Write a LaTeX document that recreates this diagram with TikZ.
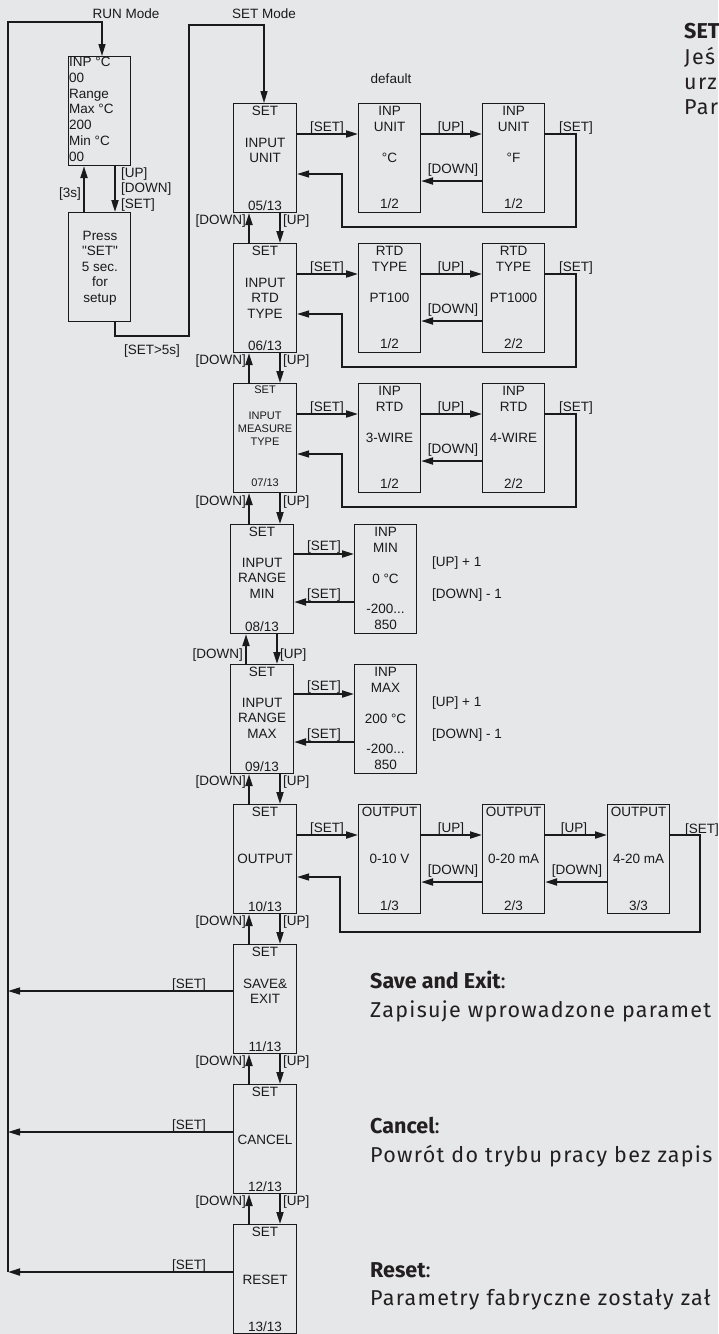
\documentclass[tikz,border=0pt]{standalone}
\usepackage{fontspec}
\setmainfont{Liberation Sans}[Ligatures=TeXOff]
\newfontfamily\notefont[LetterSpace=6, BoldFeatures={LetterSpace=0}]{Fira Sans}
\usetikzlibrary{arrows.meta,calc}
\definecolor{bg}{HTML}{E6E7E8}
\definecolor{ink}{HTML}{1A1A1A}
\definecolor{notec}{HTML}{231F20}

% multi-line nodes are anchored at the baseline of their LAST line
\newcommand\colbox[6]{%
  \node[boxst] (#1) at (#2,#3) {};
  \node[txt] (#1s) at ($(#1.north)+(0,12)$) {SET};
  \node[txt] (#1t) at ($(#1.north)+(0,#4)$) {#5};
  \node[txt] (#1n) at ($(#1.south)+(0,-3)$) {#6};
}
\newcommand\subbox[8]{%
  \node[subst] (#1) at (#2,#3) {};
  \node[txt] (#1a) at ($(#1.north)+(0,12)$) {#4};
  \node[txt] (#1b) at ($(#1.north)+(0,28)$) {#5};
  \node[txt] (#1c) at ($(#1.north)+(0,59)$) {#6};
  \node[txt] (#1d) at ($(#1.north)+(0,#7)$) {#8};
}
% row with two options: colbox, s1, s2, top
\newcommand\optrow[4]{%
  \draw[arr] (#1.east |- 0,#4+31) -- (#2.west |- 0,#4+31);
  \node[txt] (#1ls) at (327,#4+28) {[SET]};
  \draw[arr] (#2.east |- 0,#4+31) -- (#3.west |- 0,#4+31);
  \node[txt] (#1lu) at (451,#4+28) {[UP]};
  \draw[arr] (#3.west |- 0,#4+78) -- (#2.east |- 0,#4+78);
  \node[txt] (#1ld) at (453,#4+70) {[DOWN]};
  \node[txt] (#1lr) at (576,#4+28) {[SET]};
  \draw[ret] (#3.east |- 0,#4+31) -- (576,#4+31) -- (576,#4+124) -- (342,#4+124) -- (342,#4+71) -- (#1.east |- 0,#4+71);
}
% numeric row: colbox, sub, top
\newcommand\numrow[3]{%
  \draw[arr] (#1.east |- 0,#3+30) -- (#2.west |- 0,#3+30);
  \node[txt] (#1ls) at (324,#3+26) {[SET]};
  \draw[arr] (#2.west |- 0,#3+78) -- (#1.east |- 0,#3+78);
  \node[txt] (#1lr) at (324,#3+74) {[SET]};
  \node[txt, anchor=base west] (#1up) at (432,#3+42) {[UP] + 1};
  \node[txt, anchor=base west] (#1dn) at (432,#3+74) {[DOWN] - 1};
}
% vertical pair: upper, lower, xup, xdown, label y
\newcommand\vpair[5]{%
  \draw[arr] (#2.north -| #3,0) -- (#1.south -| #3,0);
  \draw[arr] (#1.south -| #4,0) -- (#2.north -| #4,0);
  \node[txt, anchor=base east] (#1dl) at (#3-3,#5) {[DOWN]};
  \node[txt, anchor=base west] (#1ul) at (#4+3,#5) {[UP]};
}

\begin{document}
\begin{tikzpicture}[x=1pt,y=-1pt,
  boxst/.style={draw=ink, line width=1.1pt, minimum width=63pt, minimum height=109pt, inner sep=0pt, anchor=north west},
  subst/.style={boxst, minimum width=62pt},
  txt/.style={font=\fontsize{13.5}{15.5}\selectfont, inner sep=0pt, anchor=base, align=center, text=ink},
  stxt/.style={txt, font=\fontsize{11}{13.3}\selectfont},
  arr/.style={draw=ink, line width=2pt, -{Triangle[length=12pt,width=7pt]}},
  ret/.style={draw=ink, line width=1.4pt, -{Triangle[length=12pt,width=7pt]}},
  note/.style={font=\notefont\fontsize{21.5}{26}\selectfont, text=notec, inner sep=0pt, anchor=base west},
]
\useasboundingbox (0,0) rectangle (718,1334);
\fill[bg] (0,0) rectangle (718,1334);

% ---------- SET column
\colbox{b1}{233}{103}{59.5}{INPUT\\UNIT}{05/13}
\colbox{b2}{233}{243}{75}{INPUT\\RTD\\TYPE}{06/13}
\node[boxst] (b3) at (233,383) {};
\node[stxt] (b3s) at ($(b3.north)+(0,10)$) {SET};
\node[stxt] (b3t) at ($(b3.north)+(0,62.6)$) {INPUT\\MEASURE\\TYPE};
\node[stxt] (b3n) at ($(b3.south)+(0,-7)$) {07/13};
\colbox{b4}{230}{524}{74}{INPUT\\RANGE\\MIN}{08/13}
\colbox{b5}{230}{664}{74}{INPUT\\RANGE\\MAX}{09/13}
\colbox{b6}{233}{804}{59}{OUTPUT}{10/13}
\colbox{b7}{233}{944}{59.5}{SAVE\&\\EXIT}{11/13}
\colbox{b8}{233}{1084}{60}{CANCEL}{12/13}
\colbox{b9}{233}{1224}{60}{RESET}{13/13}

\vpair{b1}{b2}{249}{280}{224}
\vpair{b2}{b3}{249}{280}{364}
\vpair{b3}{b4}{249}{280}{505}
\vpair{b4}{b5}{246}{277}{658}
\vpair{b5}{b6}{249}{280}{785}
\vpair{b6}{b7}{249}{280}{925}
\vpair{b7}{b8}{249}{280}{1065}
\vpair{b8}{b9}{249}{280}{1205}

% ---------- RUN part
\node[txt] (runlbl) at (126,18) {RUN Mode};
\node[txt] (setlbl) at (264,18) {SET Mode};
\node[boxst, minimum width=62pt] (run) at (68,56) {};
\node[boxst, minimum width=62pt] (press) at (68,212) {};
\node[txt, anchor=base west, align=left, font=\fontsize{13.5}{15.7}\selectfont] (runtxt) at (69,161) {INP °C\\00\\Range\\Max °C\\200\\Min °C\\00};
\node[txt] (presstxt) at (100,302) {Press\\"SET"\\5 sec.\\for\\setup};
\draw[arr] (press.north -| 84,0) -- (run.south -| 84,0);
\draw[arr] (run.south -| 115,0) -- (press.north -| 115,0);
\node[txt, anchor=base east] (l3s) at (81,197) {[3s]};
\node[txt, anchor=base west, align=left] (lkeys) at (121,208) {[UP]\\{}[DOWN]\\{}[SET]};

\coordinate (ltop) at (8,22);
\coordinate (lbot) at (8,1272);
\draw[ret] (lbot) -- (ltop) -- (102,22) -- (run.north -| 102,0);

\draw[ret] (press.south -| 115,0) -- (115,336) -- (189,336) -- (189,25) -- (264,25) -- (b1.north -| 264,0);
\node[txt] (set5) at (152,354) {[SET>5s]};

% ---------- option rows
\node[txt] (deflt) at (391,83) {default};
\subbox{s11}{358}{103}{INP}{UNIT}{°C}{105}{1/2}
\subbox{s12}{482}{103}{INP}{UNIT}{°F}{105}{1/2}
\optrow{b1}{s11}{s12}{103}

\subbox{s21}{358}{243}{RTD}{TYPE}{PT100}{105}{1/2}
\subbox{s22}{482}{243}{RTD}{TYPE}{PT1000}{105}{2/2}
\optrow{b2}{s21}{s22}{243}

\subbox{s31}{358}{383}{INP}{RTD}{3-WIRE}{105}{1/2}
\subbox{s32}{482}{383}{INP}{RTD}{4-WIRE}{105}{2/2}
\optrow{b3}{s31}{s32}{383}

\subbox{s41}{354}{524}{INP}{MIN}{0 °C}{105}{-200...\\850}
\numrow{b4}{s41}{524}
\subbox{s51}{354}{664}{INP}{MAX}{200 °C}{105}{-200...\\850}
\numrow{b5}{s51}{664}

% output row
\node[subst] (s61) at (358,804) {};
\node[subst] (s62) at (482,804) {};
\node[subst] (s63) at (607,804) {};
\node[txt] (s61a) at ($(s61.north)+(0,12)$) {OUTPUT};
\node[txt] (s61c) at ($(s61.north)+(0,59)$) {0-10 V};
\node[txt] (s61d) at ($(s61.north)+(0,106)$) {1/3};
\node[txt] (s62a) at ($(s62.north)+(0,12)$) {OUTPUT};
\node[txt] (s62c) at ($(s62.north)+(0,59)$) {0-20 mA};
\node[txt] (s62d) at ($(s62.north)+(0,106)$) {2/3};
\node[txt] (s63a) at ($(s63.north)+(0,12)$) {OUTPUT};
\node[txt] (s63c) at ($(s63.north)+(0,59)$) {4-20 mA};
\node[txt] (s63d) at ($(s63.north)+(0,106)$) {3/3};
\draw[arr] (b6.east |- 0,835) -- (s61.west |- 0,835);
\node[txt] (b6ls) at (327,832) {[SET]};
\draw[arr] (s61.east |- 0,835) -- (s62.west |- 0,835);
\node[txt] (b6lu1) at (451,832) {[UP]};
\draw[arr] (s62.east |- 0,835) -- (s63.west |- 0,835);
\node[txt] (b6lu2) at (574,832) {[UP]};
\draw[arr] (s62.west |- 0,882) -- (s61.east |- 0,882);
\node[txt] (b6ld1) at (453,874) {[DOWN]};
\draw[arr] (s63.west |- 0,882) -- (s62.east |- 0,882);
\node[txt] (b6ld2) at (577,874) {[DOWN]};
\node[txt] (b6lr) at (702,833) {[SET]};
\draw[ret] (s63.east |- 0,835) -- (700,835) -- (700,932) -- (340,932) -- (340,877) -- (b6.east |- 0,877);

% ---------- exits to RUN
\coordinate (e7) at (8,991);
\coordinate (e8) at (8,1132);
\coordinate (e9) at (8,1272);
\draw[ret] (b7.west |- e7) -- (e7);
\node[txt] (b7lx) at (189,988) {[SET]};
\draw[ret] (b8.west |- e8) -- (e8);
\node[txt] (b8lx) at (189,1129) {[SET]};
\draw[arr] (b9.west |- e9) -- (e9);
\node[txt] (b9lx) at (189,1269) {[SET]};

% ---------- notes
\node[note] (n1) at (684,38) {\bfseries SET};
\node[note] (n2) at (684,64) {Jeś};
\node[note] (n3) at (684,89) {urz};
\node[note] (n4) at (684,114) {Par};
\node[note] (n5) at (370,988) {{\bfseries Save and Exit}:};
\node[note] (n6) at (370,1017) {Zapisuje wprowadzone paramet};
\node[note] (n7) at (370,1133) {{\bfseries Cancel}:};
\node[note] (n8) at (370,1162) {Powrót do trybu pracy bez zapis};
\node[note] (n9) at (370,1277) {{\bfseries Reset}:};
\node[note] (n10) at (370,1305) {Parametry fabryczne zostały zał};
\end{tikzpicture}
\end{document}
